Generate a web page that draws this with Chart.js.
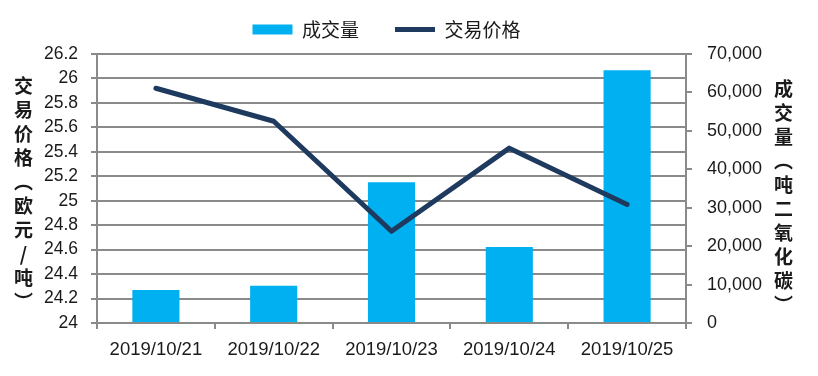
<!DOCTYPE html>
<html>
<head>
<meta charset="utf-8">
<title>成交量与交易价格</title>
<script src="https://cdn.jsdelivr.net/npm/chart.js@4"></script>
<style>
  html, body { margin: 0; padding: 0; background: #fff; }
  #wrap { position: relative; width: 818px; height: 376px; }
  .vtitle {
    position: absolute; writing-mode: vertical-rl; text-orientation: upright;
    font-family: "Noto Sans CJK SC", sans-serif; font-weight: bold; font-size: 19px;
    letter-spacing: 5px; line-height: 1; color: #1a1a1a;
  }
</style>
</head>
<body>
<div id="wrap">
  <canvas id="chart" width="818" height="376"></canvas>
  <div class="vtitle" style="left:14px; top:76px;">交易价格（欧元/吨）</div>
  <div class="vtitle" style="left:774px; top:79px;">成交量（吨二氧化碳）</div>
</div>
<script>
// data
const dates = ['2019/10/21', '2019/10/22', '2019/10/23', '2019/10/24', '2019/10/25'];
const volume = [8600, 9700, 36600, 19800, 65800];   // 成交量 (tCO2)
const price = [25.92, 25.65, 24.75, 25.43, 24.97];  // 交易价格 (EUR/t)
const priceTicks = [24, 24.2, 24.4, 24.6, 24.8, 25, 25.2, 25.4, 25.6, 25.8, 26, 26.2];
const volumeTicks = [0, 10000, 20000, 30000, 40000, 50000, 60000, 70000];

const GRID = '#8a8a8a';
const INK = '#1a1a1a';
const CJK = '"Noto Sans CJK SC", sans-serif';

// legend sits a little higher / further left than chart.js would put it
const legendNudge = {
  id: 'legendNudge',
  afterLayout(chart) {
    const l = chart.legend;
    if (!l) return;
    l.top -= 5; l.bottom -= 5;
    l.left -= 5; l.right -= 5;
  },
};

new Chart(document.getElementById('chart'), {
  data: {
    labels: dates,
    datasets: [
      {
        type: 'bar', label: '成交量', data: volume, yAxisID: 'y1', order: 1,
        backgroundColor: '#00b0f0', borderWidth: 0, pointStyle: 'rect',
        categoryPercentage: 1, barPercentage: 0.4,
      },
      {
        type: 'line', label: '交易价格', data: price, yAxisID: 'y', order: 0,
        borderColor: '#1e3a5f', backgroundColor: '#1e3a5f', borderWidth: 5,
        borderCapStyle: 'round', borderJoinStyle: 'round',
        pointRadius: 0, pointHoverRadius: 0, pointStyle: 'line', tension: 0,
      },
    ],
  },
  options: {
    responsive: false, animation: false, devicePixelRatio: 1,
    // negative top padding so the y-axis paddingTop below decides where the plot starts
    layout: { padding: { top: -26, left: 0, right: 0, bottom: 0 } },
    plugins: {
      tooltip: { enabled: false },
      legend: {
        position: 'top', fullSize: false,
        labels: {
          usePointStyle: true, pointStyleWidth: 40, boxHeight: 10, padding: 36,
          color: INK, font: { family: CJK, size: 19 },
          sort: (a, b) => a.datasetIndex - b.datasetIndex,
        },
      },
    },
    scales: {
      x: {
        offset: true,
        grid: { drawOnChartArea: false, drawTicks: true, tickLength: 6, color: GRID, lineWidth: 2 },
        border: { color: GRID, width: 2 },
        ticks: { color: INK, padding: 10, maxRotation: 0, autoSkip: false, font: { family: '"Liberation Sans"', size: 18.5 } },
        afterFit: (s) => { s.height = 53; },
      },
      y: {
        position: 'left', min: 24, max: 26.2,
        afterBuildTicks: (s) => { s.ticks = priceTicks.map((v) => ({ value: v })); },
        grid: { color: GRID, lineWidth: 2, tickLength: 6 },
        border: { color: GRID, width: 2 },
        ticks: { color: INK, padding: 13, autoSkip: false, font: { family: '"Liberation Sans"', size: 17.5 }, callback: (v) => String(v) },
        afterFit: (s) => { s.width = 97; s.paddingTop = 54; },
      },
      y1: {
        position: 'right', min: 0, max: 70000,
        afterBuildTicks: (s) => { s.ticks = volumeTicks.map((v) => ({ value: v })); },
        grid: { drawOnChartArea: false, color: GRID, lineWidth: 2, tickLength: 6 },
        border: { color: GRID, width: 2 },
        ticks: { color: INK, padding: 15, autoSkip: false, font: { family: '"Liberation Sans"', size: 18 }, callback: (v) => v.toLocaleString('en-US') },
        afterFit: (s) => { s.width = 132; },
      },
    },
  },
  plugins: [legendNudge],
});
</script>
</body>
</html>
